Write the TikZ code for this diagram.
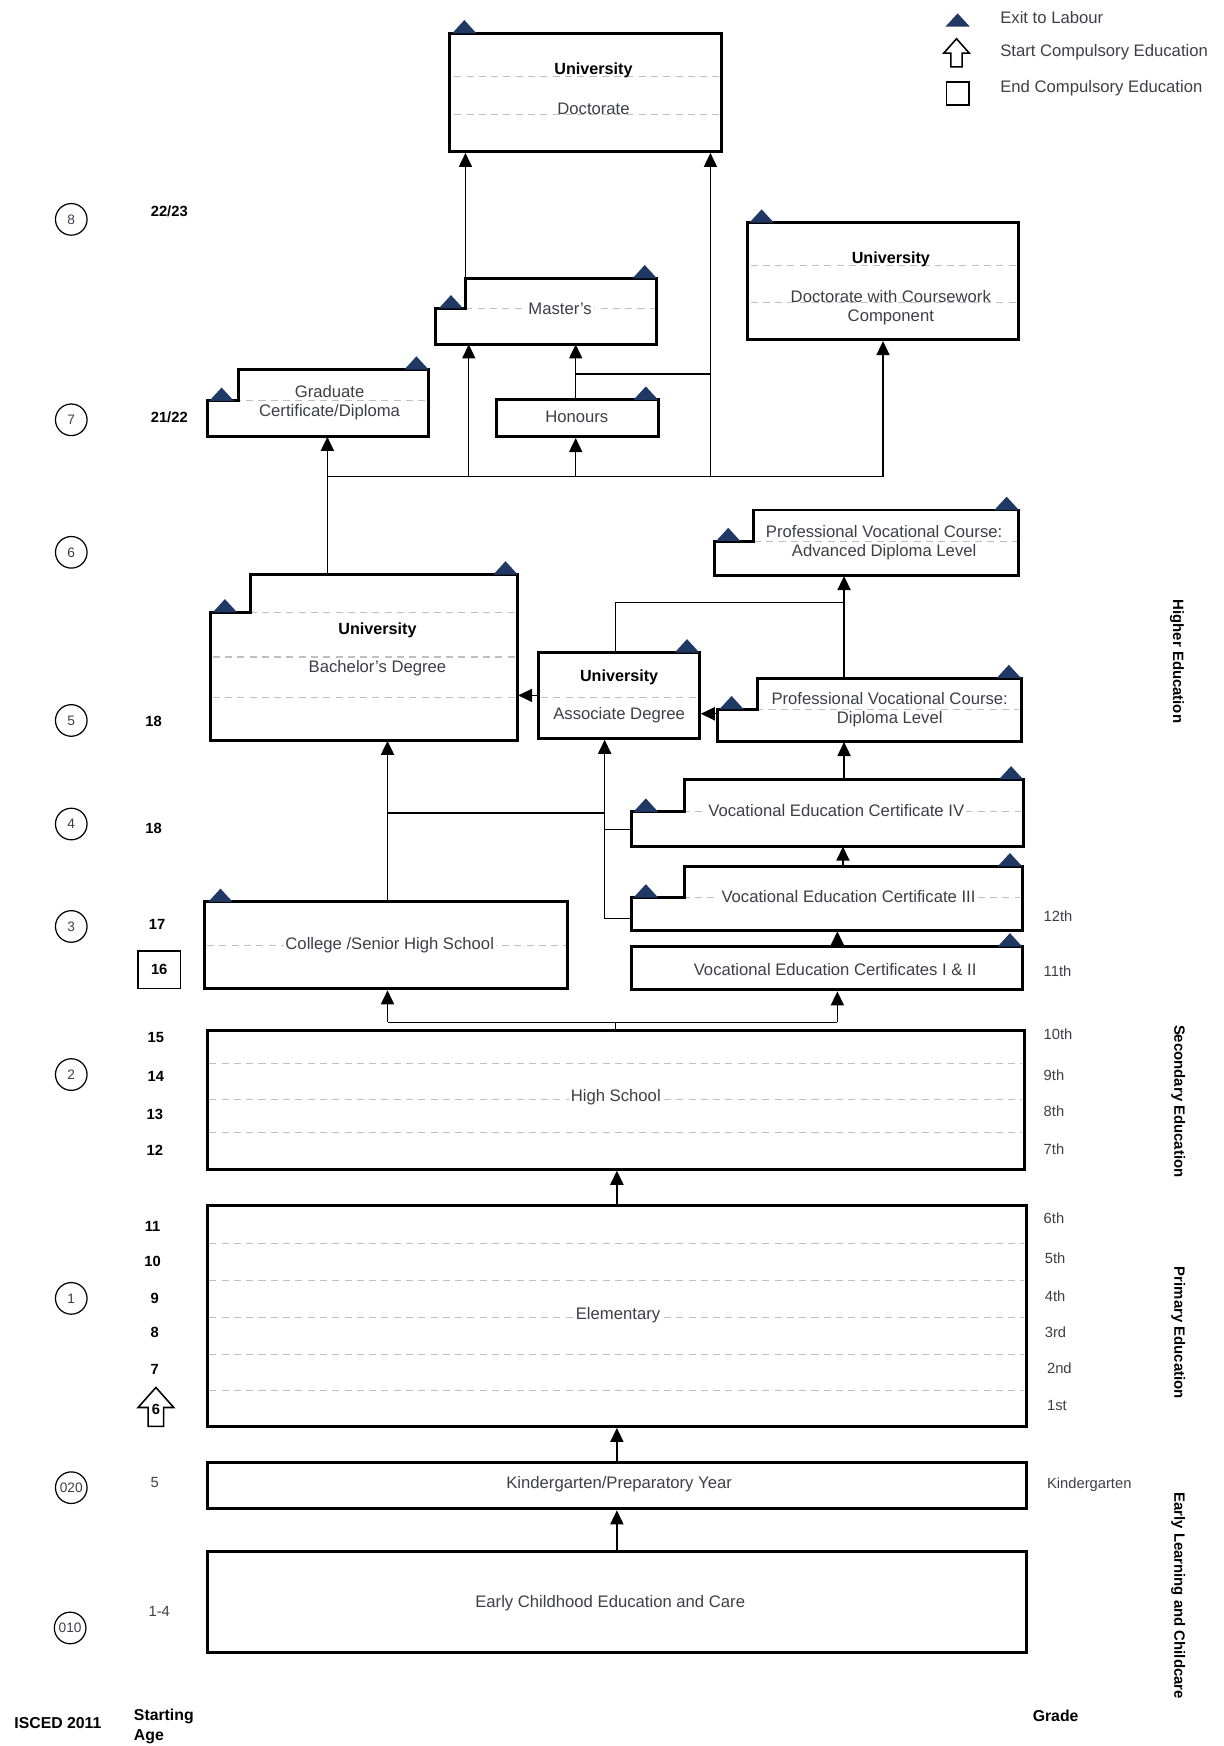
\documentclass[tikz,border=0pt]{standalone}
\usepackage{fontspec}
\setmainfont{Liberation Sans}
\usetikzlibrary{arrows.meta,fit}
\definecolor{navy}{RGB}{31,56,100}
\definecolor{ink}{RGB}{62,62,72}

\begin{document}
\begin{tikzpicture}[x=0.0223cm,y=-0.0223cm,
  frame/.style={draw,line width=1.7pt},
  area/.style={inner sep=0pt},
  guide/.style={draw=black!25,line width=0.6pt,dash pattern=on 4pt off 3pt},
  conn/.style={line width=0.8pt},
  arr/.style={conn,-{Triangle[width=7.5pt,length=8pt]}},
  txt/.style={text=ink,font=\fontsize{9.5}{10.8}\selectfont,align=center,inner sep=1pt},
  plate/.style={txt,fill=white},
  head/.style={font=\fontsize{9.2}{11}\selectfont\bfseries,inner sep=1pt},
  legend/.style={anchor=west,text=ink,font=\fontsize{9.5}{11}\selectfont,inner sep=0pt},
  age/.style={font=\fontsize{8.4}{10}\selectfont\bfseries,inner sep=0pt},
  agelight/.style={text=ink,font=\fontsize{8.4}{10}\selectfont,inner sep=0pt},
  grade/.style={anchor=west,text=ink,font=\fontsize{8.4}{10}\selectfont,inner sep=0pt},
  level/.style={circle,draw,line width=0.7pt,minimum size=18pt,inner sep=0pt,text=ink,font=\fontsize{7.8}{9}\selectfont},
  sect/.style={rotate=-90,font=\fontsize{8.5}{10}\selectfont\bfseries,inner sep=0pt},
  foot/.style={font=\fontsize{9}{11.4}\selectfont\bfseries,inner sep=0pt},
  exitmark/.pic={\fill[navy] (0,0) -- (22,0) -- (11,-12) -- cycle;},
  startmark/.pic={\draw[line width=0.9pt,fill=white] (-7,0) -- (7,0) -- (7,-17) -- (16,-17) -- (0,-35) -- (-16,-17) -- (-7,-17) -- cycle;}
]
\useasboundingbox (0,0) rectangle (1099,1568);
%Легенда
\pic at (849,24) {exitmark};
\node[legend] (lg1) at (898,16) {Exit to Labour};
\pic[scale=0.72] at (859,60) {startmark};
\node[legend] (lg2) at (898,47) {Start Compulsory Education};
\node[draw,line width=0.8pt,minimum size=13pt,inner sep=0pt] (lg3box) at (860,84) {};
\node[legend] (lg3) at (898,79) {End Compulsory Education};
%Пунктирные линии
\draw[guide] (408,69) -- (646,69);
\draw[guide] (408,103) -- (646,103);
\draw[guide] (674,238) -- (913,238);
\draw[guide] (674,272) -- (913,272);
\draw[guide] (418,277) -- (588,277);
\draw[guide] (188,360) -- (383,360);
\draw[guide] (644,486) -- (913,486);
\draw[guide] (191,550) -- (463,550);
\draw[guide] (191,590) -- (463,590);
\draw[guide] (191,626) -- (463,626);
\draw[guide] (486,626) -- (626,626);
\draw[guide] (646,637) -- (915,637);
\draw[guide] (569,729) -- (917,729);
\draw[guide] (569,806) -- (916,806);
\draw[guide] (186,849) -- (508,849);
\draw[guide] (188,955) -- (918,955);
\draw[guide] (188,987) -- (918,987);
\draw[guide] (188,1017) -- (918,1017);
\draw[guide] (188,1117) -- (920,1117);
\draw[guide] (188,1150) -- (920,1150);
\draw[guide] (188,1183) -- (920,1183);
\draw[guide] (188,1216) -- (920,1216);
\draw[guide] (188,1249) -- (920,1249);
%Блоки
\node[frame,area,fit={(404,30) (648,136)}] (doct) {};
\node[frame,area,fit={(671,200) (915,305)}] (cwork) {};
\node[area,fit={(391,250) (590,309)}] (mast) {};
\draw[frame] (391,309) |- (418,277) |- (590,250) -- (590,309) -- cycle;
\node[frame,area,fit={(446,359) (591,392)}] (hon) {};
\node[area,fit={(186,332) (385,392)}] (grad) {};
\draw[frame] (186,392) |- (214,360) |- (385,332) -- (385,392) -- cycle;
\node[area,fit={(642,458) (915,517)}] (adv) {};
\draw[frame] (642,517) |- (677,486) |- (915,458) -- (915,517) -- cycle;
\node[area,fit={(189,516) (465,665)}] (bach) {};
\draw[frame] (189,665) |- (225,550) |- (465,516) -- (465,665) -- cycle;
\node[frame,area,fit={(484,586) (628,663)}] (assoc) {};
\node[area,fit={(644,609) (917,666)}] (dipl) {};
\draw[frame] (644,666) |- (680,637) |- (917,609) -- (917,666) -- cycle;
\node[area,fit={(567,700) (919,760)}] (c4) {};
\draw[frame] (567,760) |- (615,729) |- (919,700) -- (919,760) -- cycle;
\node[area,fit={(567,778) (918,836)}] (c3) {};
\draw[frame] (567,836) |- (615,806) |- (918,778) -- (918,836) -- cycle;
\node[frame,area,fit={(567,850) (918,889)}] (c12) {};
\node[frame,area,fit={(184,810) (510,888)}] (coll) {};
\node[frame,area,fit={(186,925) (920,1050)}] (hs) {};
\node[frame,area,fit={(186,1083) (922,1281)}] (elem) {};
\node[frame,area,fit={(186,1313) (922,1355)}] (kind) {};
\node[frame,area,fit={(186,1393) (922,1484)}] (ecec) {};
%Выход на рынок труда
\pic at (406,30) {exitmark};
\pic at (673,200) {exitmark};
\pic at (394,277) {exitmark};
\pic at (568,250) {exitmark};
\pic at (569,359) {exitmark};
\pic at (188,360) {exitmark};
\pic at (363,332) {exitmark};
\pic at (643,486) {exitmark};
\pic at (893,458) {exitmark};
\pic at (191,550) {exitmark};
\pic at (443,516) {exitmark};
\pic at (606,586) {exitmark};
\pic at (646,637) {exitmark};
\pic at (895,609) {exitmark};
\pic at (569,729) {exitmark};
\pic at (897,700) {exitmark};
\pic at (569,806) {exitmark};
\pic at (896,778) {exitmark};
\pic at (896,850) {exitmark};
\pic at (187,810) {exitmark};
%Подписи блоков
\node[head] (doct-a) at (533,63) {University};
\node[txt] (doct-b) at (533,98) {Doctorate};
\node[head] (cwork-a) at (800,233) {University};
\node[txt] (cwork-b) at (800,276) {Doctorate with Coursework\\Component};
\node[plate] (mast-a) at (503,277) {Master's};
\node[txt] (hon-a) at (518,374) {Honours};
\node[txt] (grad-a) at (296,362) {Graduate\\Certificate/Diploma};
\node[txt] (adv-a) at (794,487) {Professional Vocational Course:\\Advanced Diploma Level};
\node[head] (bach-a) at (339,566) {University};
\node[txt] (bach-b) at (339,600) {Bachelor's Degree};
\node[head] (assoc-a) at (556,608) {University};
\node[txt] (assoc-b) at (556,642) {Associate Degree};
\node[txt] (dipl-a) at (799,637) {Professional Vocational Course:\\Diploma Level};
\node[plate] (c4-a) at (751,728) {Vocational Education Certificate IV};
\node[plate] (c3-a) at (762,805) {Vocational Education Certificate III};
\node[txt] (c12-a) at (750,871) {Vocational Education Certificates I \& II};
\node[plate] (coll-a) at (350,849) {College /Senior High School};
\node[plate] (hs-a) at (553,985) {High School};
\node[plate] (elem-a) at (555,1181) {Elementary};
\node[txt] (kind-a) at (556,1333) {Kindergarten/Preparatory Year};
\node[txt] (ecec-a) at (548,1440) {Early Childhood Education and Care};
%Стрелки
\coordinate (b1) at (294,428);
\coordinate (b2) at (421,428);
\coordinate (b3) at (517,428);
\coordinate (b4) at (638,428);
\coordinate (b5) at (793,428);
\draw[conn] (b1) -- (b5);
\draw[conn] (b1 |- bach.north) -- (b1);
\draw[arr] (b1) -- (b1 |- grad.south);
\draw[arr] (b2) -- (b2 |- mast.south);
\draw[arr] (b3) -- (b3 |- hon.south);
\draw[arr] (b4) -- (b4 |- doct.south);
\draw[arr] (b5) -- (b5 |- cwork.south);
\coordinate (j1) at (638,336);
\draw[conn] (j1) -- (j1 -| b3);
\draw[arr] (b3 |- hon.north) -- (b3 |- mast.south);
\coordinate (m1) at (418,250);
\draw[arr] (m1) -- (m1 |- doct.south);
\draw[arr] (assoc.west) -- (assoc.west -| bach.east);
\coordinate (d1) at (644,641);
\draw[arr] (d1) -- (d1 -| assoc.east);
\coordinate (a1) at (553,541);
\coordinate (a2) at (758,541);
\draw[conn] (a1 |- assoc.north) -- (a1) -- (a2);
\draw[arr] (a2 |- dipl.north) -- (a2 |- adv.south);
\draw[arr] (a2 |- c4.north) -- (a2 |- dipl.south);
\coordinate (v3) at (757,800);
\draw[arr] (v3 |- c3.north) -- (v3 |- c4.south);
\coordinate (v12) at (752,900);
\draw[arr] (v12 |- c12.north) -- (v12 |- c3.south);
\coordinate (h1) at (348,918);
\coordinate (h2) at (752,918);
\draw[conn] (hs.north) -- (hs.north |- h1);
\draw[conn] (h1) -- (h2);
\draw[arr] (h1) -- (h1 |- coll.south);
\draw[arr] (h2) -- (h2 |- c12.south);
\coordinate (k1) at (348,730);
\coordinate (k2) at (543,730);
\coordinate (k3) at (543,745);
\coordinate (k4) at (543,825);
\draw[arr] (k1 |- coll.north) -- (k1 |- bach.south);
\draw[conn] (k1) -- (k2);
\draw[arr] (k4) -- (k4 |- assoc.south);
\draw[conn] (k3) -- (k3 -| c4.west);
\draw[conn] (k4) -- (k4 -| c3.west);
\draw[arr] (ecec.north) -- (ecec.north |- kind.south);
\draw[arr] (kind.north) -- (kind.north |- elem.south);
\draw[arr] (elem.north) -- (elem.north |- hs.south);
%Уровни ISCED
\node[level] (l8) at (64,197) {8};
\node[level] (l7) at (64,377) {7};
\node[level] (l6) at (64,496) {6};
\node[level] (l5) at (64,647) {5};
\node[level] (l4) at (64,740) {4};
\node[level] (l3) at (64,832) {3};
\node[level] (l2) at (64,965) {2};
\node[level] (l1) at (64,1166) {1};
\node[level] (l020) at (64,1336) {020};
\node[level] (l010) at (63,1462) {010};
%Возраст
\node[age] (g2223) at (152,190) {22/23};
\node[age] (g2122) at (152,375) {21/22};
\node[age] (g18a) at (138,648) {18};
\node[age] (g18b) at (138,744) {18};
\node[age] (g17) at (141,830) {17};
\node[age,draw,line width=0.8pt,minimum width=24pt,minimum height=21.5pt] (g16) at (143,871) {16};
\node[age] (g15) at (140,932) {15};
\node[age] (g14) at (140,967) {14};
\node[age] (g13) at (139,1001) {13};
\node[age] (g12) at (139,1033) {12};
\node[age] (g11) at (137,1101) {11};
\node[age] (g10) at (137,1133) {10};
\node[age] (g9) at (139,1166) {9};
\node[age] (g8) at (139,1197) {8};
\node[age] (g7) at (139,1230) {7};
\pic at (140,1281) {startmark};
\node[age] (g6) at (140,1266) {6};
\node[agelight] (g5) at (139,1331) {5};
\node[agelight] (g14y) at (143,1447) {1-4};
%Классы
\node[grade] (k12) at (937,823) {12th};
\node[grade] (k11) at (937,872) {11th};
\node[grade] (k10) at (937,929) {10th};
\node[grade] (k9) at (937,966) {9th};
\node[grade] (k8) at (937,998) {8th};
\node[grade] (k7) at (937,1032) {7th};
\node[grade] (k6) at (937,1094) {6th};
\node[grade] (k5) at (938,1130) {5th};
\node[grade] (k4) at (938,1164) {4th};
\node[grade] (k3) at (938,1196) {3rd};
\node[grade] (k2) at (940,1229) {2nd};
\node[grade] (k1) at (940,1262) {1st};
\node[grade] (kk) at (940,1333) {Kindergarten};
%Ступени
\node[sect] (s1) at (1057,594) {Higher Education};
\node[sect] (s2) at (1058,989) {Secondary Education};
\node[sect] (s3) at (1058,1197) {Primary Education};
\node[sect] (s4) at (1058,1433) {Early Learning and Childcare};
%Подписи внизу
\node[foot] (f1) at (52,1547) {ISCED 2011};
\node[foot,anchor=west,align=left] (f2) at (120,1550) {Starting\\Age};
\node[foot] (f3) at (948,1541) {Grade};
\end{tikzpicture}
\end{document}
